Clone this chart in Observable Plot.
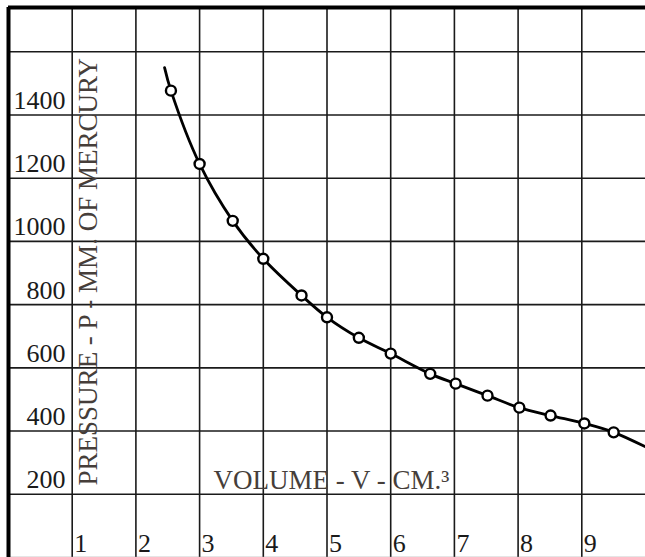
<!DOCTYPE html>
<html>
<head>
<meta charset="utf-8">
<script src="https://cdn.jsdelivr.net/npm/d3@7"></script>
<script src="https://cdn.jsdelivr.net/npm/@observablehq/plot@0.6"></script>
<style>
  html, body { margin: 0; padding: 0; background: #fff; }
  #chart svg { display: block; }
</style>
</head>
<body>
<div id="chart"></div>
<script>
// Measured points (open circles)
const volume   = [2.55, 3.0, 3.52, 4.0, 4.6, 5.0, 5.5, 6.0, 6.62, 7.02, 7.52, 8.02, 8.51, 9.04, 9.5];
const pressure = [1477, 1245, 1065, 945, 829, 760, 695, 645, 581, 550, 512, 474, 449, 424, 396];
// Drawn curve extends slightly beyond the points
const curveVolume   = [2.45, ...volume, 10];
const curvePressure = [1550, ...pressure, 350];

const xGrid = [1, 2, 3, 4, 5, 6, 7, 8, 9];
const xTickLabels = [1, 2, 3, 4, 5, 6, 7, 8, 9];
const yGrid = [200, 400, 600, 800, 1000, 1200, 1400, 1600];
const yTickLabels = [200, 400, 600, 800, 1000, 1200, 1400];
const yMax = 1740;
const xTitle = "VOLUME - V - CM.\u00B3";
const yTitle = "PRESSURE - P - MM. OF MERCURY";

const points = volume.map((v, i) => ({v, p: pressure[i]}));
const curve = curveVolume.map((v, i) => ({v, p: curvePressure[i]}));

const ink = "#1a1a1a";
const titleInk = "#463e3a";

const chart = Plot.plot({
  width: 645,
  height: 557,
  marginLeft: 8,
  marginTop: 7,
  marginRight: 0,
  marginBottom: 0,
  x: {domain: [0, 10], axis: null},
  y: {domain: [0, yMax], axis: null},
  style: {fontFamily: "'Liberation Serif', 'Times New Roman', serif", fontSize: "26px", background: "#fff", color: ink},
  marks: [
    Plot.gridX(xGrid, {stroke: ink, strokeOpacity: 1, strokeWidth: 1.6}),
    Plot.gridY(yGrid, {stroke: ink, strokeOpacity: 1, strokeWidth: 1.6}),
    Plot.ruleY([0], {stroke: "#999", strokeWidth: 1.5}),
    Plot.ruleX([0], {stroke: "#000", strokeWidth: 4}),
    Plot.ruleY([yMax], {stroke: "#000", strokeWidth: 4}),
    Plot.text(yTickLabels, {x: 0, y: d => d, text: d => String(d), textAnchor: "end", lineAnchor: "bottom", dx: 57, dy: -6, fill: ink, fontSize: 26}),
    Plot.text(xTickLabels, {x: d => d, y: 0, text: d => String(d), textAnchor: "start", lineAnchor: "bottom", dx: 2, dy: -6, fill: ink, fontSize: 26}),
    Plot.text([yTitle], {x: 1.26, y: 228, text: d => d, rotate: -90, textAnchor: "start", lineAnchor: "middle", fill: titleInk, fontSize: 27}),
    Plot.text([xTitle], {x: 3.22, y: 218, text: d => d, textAnchor: "start", lineAnchor: "bottom", fill: titleInk, fontSize: 27}),
    Plot.line(curve, {x: "v", y: "p", curve: "catmull-rom", stroke: "#000", strokeWidth: 2.8}),
    Plot.dot(points, {x: "v", y: "p", r: 5, stroke: "#000", strokeWidth: 2.4, fill: "#fff"})
  ]
});
document.getElementById("chart").appendChild(chart);
</script>
</body>
</html>
